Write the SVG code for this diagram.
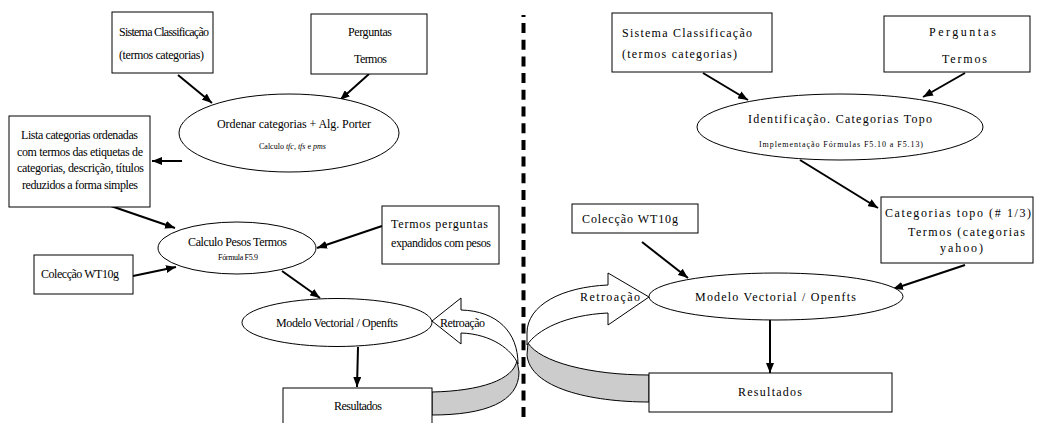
<svg xmlns="http://www.w3.org/2000/svg" width="1037" height="423" viewBox="0 0 1037 423">
<style>
.box{fill:#fff;stroke:#000;stroke-width:1}
.ell{fill:#fff;stroke:#000;stroke-width:1}
.t{font-family:"Liberation Serif","Times New Roman","DejaVu Serif",serif;font-size:12px;fill:#000}
.s{font-family:"Liberation Serif","Times New Roman","DejaVu Serif",serif;font-size:8px;fill:#000}
.c{stroke:#000;stroke-width:2;fill:none;marker-end:url(#ah)}
.rib{fill:#fff;stroke:#000;stroke-width:1}
.ribg{fill:#cccccc;stroke:#000;stroke-width:1}
</style>
<defs>
<marker id="ah" markerUnits="userSpaceOnUse" markerWidth="10" markerHeight="8" refX="10" refY="4" orient="auto">
<path d="M0,0 L10,4 L0,8 z" fill="#000"/>
</marker>
</defs>
<rect width="1037" height="423" fill="#fff"/>

<line x1="523.5" y1="23" x2="523.5" y2="423" stroke="#000" stroke-width="4" stroke-dasharray="10 6.7"/>
<line x1="523.5" y1="15" x2="523.5" y2="17" stroke="#000" stroke-width="4"/>

<g id="retroacao-left">
<path class="ribg" d="M517,360 C514,380 480,391 432,392 L432,415 C485,415 519,402 519,372 Z"/>
<path class="rib" d="M432,321 L461,298 L461,310 C497,311 518,332 518,364 C512,350 492,334 461,333 L461,344 Z"/>
<text class="t" x="440" y="327" textLength="45" lengthAdjust="spacing">Retroação</text>
</g>
<g id="retroacao-right">
<path class="ribg" d="M528,343 C540,362 590,375 649,375 L649,402 C590,402 530,388 527,355 Z"/>
<path class="rib" d="M649,297 L608,273 L608,285 C562,287 527,305 527,333 L527,345 C537,330 565,315 608,313 L608,325 Z"/>
<text class="t" x="580" y="301" textLength="60" lengthAdjust="spacing">Retroação</text>
</g>

<g id="connectors">
<line class="c" x1="178" y1="75" x2="212" y2="103"/>
<line class="c" x1="369" y1="74" x2="340" y2="100"/>
<line class="c" x1="182" y1="161" x2="152" y2="161"/>
<line class="c" x1="108" y1="205" x2="175" y2="228"/>
<line class="c" x1="382" y1="226" x2="317" y2="248"/>
<line class="c" x1="133" y1="276" x2="176" y2="267"/>
<line class="c" x1="282" y1="271" x2="320" y2="298"/>
<line class="c" x1="358" y1="347" x2="357" y2="387"/>
<line class="c" x1="703" y1="73" x2="748" y2="100"/>
<line class="c" x1="965" y1="73" x2="923" y2="97"/>
<line class="c" x1="800" y1="160" x2="878" y2="208"/>
<line class="c" x1="642" y1="242" x2="688" y2="278"/>
<line class="c" x1="965" y1="265" x2="893" y2="289"/>
<line class="c" x1="770" y1="320" x2="770" y2="373"/>
</g>

<g id="sistema-left">
<rect class="box" x="112" y="12" width="101" height="61"/>
<text class="t" x="119" y="36" textLength="90" lengthAdjust="spacing">Sistema Classificação</text>
<text class="t" x="119" y="59" textLength="85" lengthAdjust="spacing">(termos categorias)</text>
</g>
<g id="perguntas-left">
<rect class="box" x="311" y="14" width="116" height="60"/>
<text class="t" x="348" y="36" textLength="44" lengthAdjust="spacing">Perguntas</text>
<text class="t" x="354" y="63" textLength="33" lengthAdjust="spacing">Termos</text>
</g>
<g id="ordenar">
<ellipse class="ell" cx="289" cy="133" rx="110" ry="39"/>
<text class="t" x="217" y="128" textLength="154" lengthAdjust="spacing">Ordenar categorias + Alg. Porter</text>
<text class="s" x="259" y="149" font-size="7">Calculo <tspan font-style="italic">tfc, tfs</tspan> e <tspan font-style="italic">pms</tspan></text>
</g>
<g id="lista">
<rect class="box" x="9" y="116" width="141" height="91"/>
<text class="t" x="21" y="139" textLength="117" lengthAdjust="spacing">Lista categorias ordenadas</text>
<text class="t" x="17" y="156" textLength="126" lengthAdjust="spacing">com termos das etiquetas de</text>
<text class="t" x="17" y="172" textLength="127" lengthAdjust="spacing">categorias, descrição, títulos</text>
<text class="t" x="22" y="189" textLength="116" lengthAdjust="spacing">reduzidos a forma simples</text>
</g>
<g id="calculo-pesos">
<ellipse class="ell" cx="237" cy="248" rx="79" ry="26"/>
<text class="t" x="188" y="246" textLength="99" lengthAdjust="spacing">Calculo Pesos Termos</text>
<text class="s" x="218" y="260" textLength="40" lengthAdjust="spacing">Fórmula F5.9</text>
</g>
<g id="termos-perguntas">
<rect class="box" x="382" y="206" width="117" height="58"/>
<text class="t" x="391" y="228" textLength="97" lengthAdjust="spacing">Termos perguntas</text>
<text class="t" x="391" y="247" textLength="100" lengthAdjust="spacing">expandidos com pesos</text>
</g>
<g id="colecao-left">
<rect class="box" x="34" y="255" width="99" height="39"/>
<text class="t" x="41" y="278" textLength="78" lengthAdjust="spacing">Colecção WT10g</text>
</g>
<g id="modelo-left">
<ellipse class="ell" cx="337" cy="322.5" rx="95" ry="24"/>
<text class="t" x="276" y="327" textLength="122" lengthAdjust="spacing">Modelo Vectorial / Openfts</text>
</g>
<g id="resultados-left">
<rect class="box" x="283" y="388" width="149" height="42"/>
<text class="t" x="334" y="410" textLength="48" lengthAdjust="spacing">Resultados</text>
</g>

<g id="sistema-right">
<rect class="box" x="612" y="13" width="160" height="59"/>
<text class="t" x="622" y="37" textLength="130" lengthAdjust="spacing">Sistema Classificação</text>
<text class="t" x="622" y="58" textLength="115" lengthAdjust="spacing">(termos categorias)</text>
</g>
<g id="perguntas-right">
<rect class="box" x="884" y="16" width="146" height="56"/>
<text class="t" x="929" y="36" textLength="67" lengthAdjust="spacing">Perguntas</text>
<text class="t" x="942" y="63" textLength="45" lengthAdjust="spacing">Termos</text>
</g>
<g id="identificacao">
<ellipse class="ell" cx="840" cy="127" rx="143" ry="33"/>
<text class="t" x="748" y="123" textLength="184" lengthAdjust="spacing">Identificação. Categorias Topo</text>
<text class="s" x="759" y="147" textLength="164" lengthAdjust="spacing">Implementação Fórmulas F5.10 a F5.13)</text>
</g>
<g id="categorias-topo">
<rect class="box" x="881" y="197" width="152" height="66"/>
<text class="t" x="885" y="217" textLength="146" lengthAdjust="spacing">Categorias topo (# 1/3)</text>
<text class="t" x="908" y="236" textLength="117" lengthAdjust="spacing">Termos (categorias</text>
<text class="t" x="940" y="252" textLength="43" lengthAdjust="spacing">yahoo)</text>
</g>
<g id="colecao-right">
<rect class="box" x="572" y="204" width="126" height="29"/>
<text class="t" x="582" y="223" textLength="96" lengthAdjust="spacing">Colecção WT10g</text>
</g>
<g id="modelo-right">
<ellipse class="ell" cx="776" cy="296.5" rx="127" ry="23.5"/>
<text class="t" x="695" y="301" textLength="161" lengthAdjust="spacing">Modelo Vectorial / Openfts</text>
</g>
<g id="resultados-right">
<rect class="box" x="649" y="373" width="243" height="39"/>
<text class="t" x="738" y="396" textLength="64" lengthAdjust="spacing">Resultados</text>
</g>
</svg>
